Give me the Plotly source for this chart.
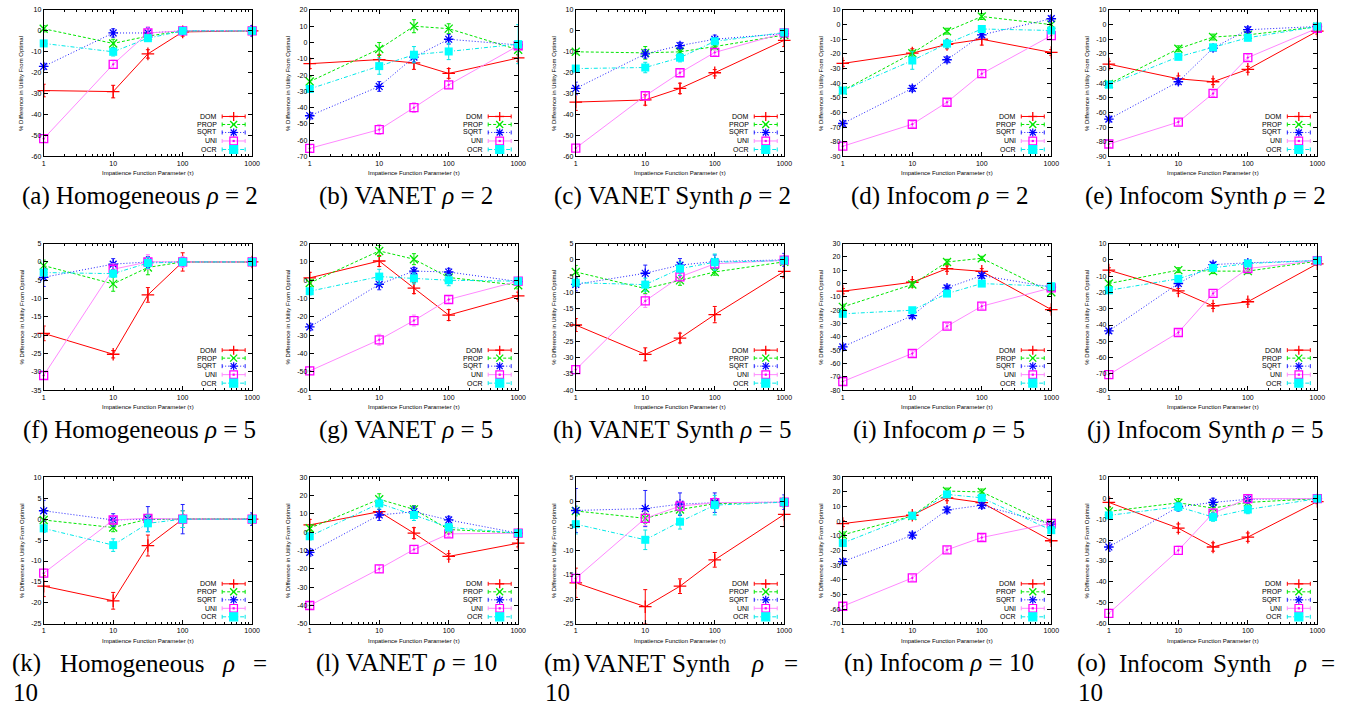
import plotly.graph_objects as go

W, H = 1368, 709

# ---------------- data ----------------
TAU = [1, 10, 31.6, 100, 1000]
SERIES = ["DOM", "PROP", "SQRT", "UNI", "OCR"]
X_TICK_VALS = [1, 10, 100, 1000]
X_TICK_TEXT = ["1", "10", "100", "1000"]
X_MINOR_VALS = [2, 3, 4, 5, 6, 7, 8, 9, 20, 30, 40, 50, 60, 70, 80, 90,
                200, 300, 400, 500, 600, 700, 800, 900]

PANELS = list("abcdefghijklmno")
DATASETS = ["Homogeneous", "VANET", "VANET Synth", "Infocom", "Infocom Synth"]
RHOS = [2, 5, 10]
Y_MIN = [-60, -70, -60, -90, -90, -35, -60, -40, -80, -80, -25, -50, -25, -70, -60]
Y_MAX = [10, 20, 10, 10, 10, 5, 20, 5, 30, 10, 10, 30, 5, 30, 10]
Y_STEP = [10, 10, 10, 10, 10, 5, 10, 5, 10, 10, 5, 10, 5, 10, 10]

# (a) Homogeneous rho=2
a_DOM = [-28.5, -29, -11, -0.5, 0];       a_DOM_err = [3, 3, 2, 2, 1]
a_PROP = [1, -6, -2.5, 0, 0];             a_PROP_err = [1.5, 2, 1, 1, 0.5]
a_SQRT = [-17, -1, -1, 0, 0];             a_SQRT_err = [1.5, 2, 2.5, 1.5, 2.5]
a_UNI = [-51.5, -16, -1, 0, 0];           a_UNI_err = [1.5, 2, 3, 1.5, 0.5]
a_OCR = [-6, -10, -3.5, 0, 0];            a_OCR_err = [1, 2, 1.5, 1, 0.5]
# (b) VANET rho=2
b_DOM = [-13, -10.5, -12.5, -19, -9.5];   b_DOM_err = [3, 3, 4, 3, 2]
b_PROP = [-24, -4, 10, 8.5, -4.5];        b_PROP_err = [3, 4, 4, 3, 3]
b_SQRT = [-45, -27, -9, 2, -1.5];         b_SQRT_err = [2, 3, 3, 3, 2]
b_UNI = [-65, -53.5, -40, -26, -2];       b_UNI_err = [2, 3, 3, 2, 2]
b_OCR = [-28.5, -14.5, -7.5, -5.5, -1];   b_OCR_err = [2, 5, 5, 5, 12]
# (c) VANET Synth rho=2
c_DOM = [-34, -33, -27.5, -20, -4.5];     c_DOM_err = [4, 2.5, 2.5, 1.5, 3]
c_PROP = [-10, -10.5, -10, -7.5, -2];     c_PROP_err = [1, 3, 1.5, 1.5, 1]
c_SQRT = [-27.5, -11, -7, -4, -1.3];      c_SQRT_err = [3, 2, 1.5, 2, 1]
c_UNI = [-56, -31, -20, -10.3, -1];       c_UNI_err = [1, 2, 2, 1.5, 1]
c_OCR = [-18, -17.5, -12.8, -5, -0.8];    c_OCR_err = [1, 2.5, 2, 1.5, 1]
# (d) Infocom rho=2
d_DOM = [-26.5, -19.5, -13.5, -10, -19];  d_DOM_err = [2, 3, 3, 4, 2]
d_PROP = [-45, -19.5, -4.5, 5.5, 0];      d_PROP_err = [2, 2, 2, 2, 2]
d_SQRT = [-67.5, -43.5, -24, -7, 4];      d_SQRT_err = [2, 2, 2, 2, 2]
d_UNI = [-83, -68, -53, -33.5, -7.5];     d_UNI_err = [2, 2, 2, 2, 2]
d_OCR = [-45, -24.5, -13, -3, -4];        d_OCR_err = [2, 6, 3, 2, 2]
# (e) Infocom Synth rho=2
e_DOM = [-27, -37, -39, -30.5, -4.5];     e_DOM_err = [2, 2, 2, 2, 2]
e_PROP = [-40.5, -16.5, -8.5, -7, -1.5];  e_PROP_err = [2, 2, 2, 2, 1]
e_SQRT = [-64.5, -39, -16, -3.5, -1.3];   e_SQRT_err = [2, 2, 2, 2, 1]
e_UNI = [-81.5, -66.5, -47, -22.5, -2.5]; e_UNI_err = [2, 2, 2, 2, 1]
e_OCR = [-41, -22, -15.5, -9, -1.3];      e_OCR_err = [2, 2, 2, 2, 1]
# (f) Homogeneous rho=5
f_DOM = [-19.5, -25.2, -9, 0, 0];         f_DOM_err = [2, 1, 2, 2.5, 1]
f_PROP = [-1, -6, -1.5, 0, 0];            f_PROP_err = [1.5, 2, 2, 1, 1]
f_SQRT = [-4.2, -0.6, 0, 0, 0];           f_SQRT_err = [2.5, 1.5, 1.5, 1, 1]
f_UNI = [-31, -2, 0, 0, 0];               f_UNI_err = [1, 1.5, 2, 1.5, 1]
f_OCR = [-2.9, -3.2, -0.3, 0, 0];         f_OCR_err = [1, 1, 1.5, 1, 1]
# (g) VANET rho=5
g_DOM = [1.3, 10.5, -4.3, -19, -8.5];     g_DOM_err = [3, 3, 3, 3, 2]
g_PROP = [-1.5, 16, 11.5, 1.5, -2.7];     g_PROP_err = [2, 3, 3, 2, 2]
g_SQRT = [-25.5, -2.2, 5, 4.5, -0.7];     g_SQRT_err = [2, 3, 2, 2, 1]
g_UNI = [-49.5, -32.5, -22, -10.5, -0.5]; g_UNI_err = [2, 3, 3, 2, 1]
g_OCR = [-6, 2, 1, 0, -0.5];              g_OCR_err = [2, 4, 3, 3, 1]
# (h) VANET Synth rho=5
h_DOM = [-20, -29, -24, -16.8, -3.5];     h_DOM_err = [2, 2, 1.5, 2.5, 2]
h_PROP = [-3.7, -8.8, -6.3, -3.7, -0.6];  h_PROP_err = [2, 1.5, 1.5, 1, 0.5]
h_SQRT = [-7.5, -4.1, -1.6, -0.5, 0];     h_SQRT_err = [2, 2.5, 2, 2, 2]
h_UNI = [-33.7, -12.6, -5.2, -1.2, -0.1]; h_UNI_err = [1, 2, 1, 1, 0.5]
h_OCR = [-7, -7.6, -2.7, -0.7, -0.2];     h_OCR_err = [1, 2, 2, 2.5, 1]
# (i) Infocom rho=5
i_DOM = [-5.7, 1, 11.2, 9.2, -19.5];      i_DOM_err = [2, 2, 2, 2, 1.5]
i_PROP = [-17.5, -0.7, 16.2, 19, -6.5];   i_PROP_err = [2, 2, 2, 1.5, 1.5]
i_SQRT = [-47.5, -24, -3.2, 6, -2.7];     i_SQRT_err = [2, 2, 2, 2, 1]
i_UNI = [-73.5, -52.5, -32, -17, -3.2];   i_UNI_err = [2, 2, 2, 2, 1]
i_OCR = [-22.7, -20, -7.5, 0, -2];        i_OCR_err = [2, 2, 2, 2, 1]
# (j) Infocom Synth rho=5
j_DOM = [-6.3, -19, -28.3, -25.7, -2.4];  j_DOM_err = [1.5, 1.5, 1.5, 1.5, 1]
j_PROP = [-14.5, -6.3, -6.9, -6.9, -0.8]; j_PROP_err = [1.5, 1.5, 1.5, 1.5, 1]
j_SQRT = [-43.6, -14.5, -2.9, -1.8, -0.4]; j_SQRT_err = [1.5, 1.5, 1.5, 1.5, 1]
j_UNI = [-70.5, -44.6, -20.6, -5.3, -0.4]; j_UNI_err = [1.5, 1.5, 1.5, 1.5, 1]
j_OCR = [-18.7, -11.6, -4.9, -2.2, -0.4]; j_OCR_err = [1.5, 1.5, 1.5, 1.5, 1]
# (k) Homogeneous rho=10
k_DOM = [-16, -19.5, -6.3, 0, 0];         k_DOM_err = [2.5, 2, 2.5, 2, 1]
k_PROP = [-0.2, -2, 0, 0, 0];             k_PROP_err = [1, 1, 1, 1, 1]
k_SQRT = [2, -0.2, 0, 0, 0];              k_SQRT_err = [2.5, 1.5, 3, 3.5, 1.5]
k_UNI = [-12.9, -0.2, 0.2, 0, 0];         k_UNI_err = [1, 1, 1, 1, 1]
k_OCR = [-2.2, -6.2, -1, 0, 0];           k_OCR_err = [1, 1.5, 2, 2, 1]
# (l) VANET rho=10
l_DOM = [4, 11.2, -0.5, -13.2, -6];       l_DOM_err = [3, 3, 3, 1.5, 2]
l_PROP = [2.2, 18, 12.5, 1.5, -0.5];      l_PROP_err = [2, 3, 2, 2, 1]
l_SQRT = [-11, 9.4, 11.2, 6.7, -0.5];     l_SQRT_err = [2, 3, 3, 2, 1]
l_UNI = [-40, -20, -9.4, -0.9, -0.5];     l_UNI_err = [1.5, 2, 2, 1.5, 1]
l_OCR = [-2.2, 15.7, 9.4, 2.7, -0.5];     l_OCR_err = [2, 3, 3, 2, 1]
# (m) VANET Synth rho=10
m_DOM = [-16.6, -21.5, -17.3, -11.9, -2.6]; m_DOM_err = [3, 3.5, 1.5, 1.5, 2.5]
m_PROP = [-1.9, -3.4, -1.6, -0.4, -0.1];  m_PROP_err = [1, 1, 1, 1, 0.5]
m_SQRT = [-1.8, -1.4, -0.5, -0.2, -0.1];  m_SQRT_err = [4.5, 3.7, 2.3, 2, 1.5]
m_UNI = [-15.7, -3.4, -0.9, -0.2, -0.1];  m_UNI_err = [1, 1.5, 1, 1, 0.5]
m_OCR = [-4.6, -7.8, -4.1, -0.7, -0.1];   m_OCR_err = [2, 2, 1.5, 2, 1]
# (n) Infocom rho=10
n_DOM = [-1.6, 4.1, 16, 12.7, -13.3];     n_DOM_err = [2, 2, 2, 2, 1]
n_PROP = [-9.3, 3.6, 20.6, 20, -2.5];     n_PROP_err = [2, 2, 2, 2, 1]
n_SQRT = [-27.6, -9.5, 7.7, 10.9, -2];    n_SQRT_err = [2, 2, 2, 2, 1]
n_UNI = [-58, -38.7, -19.5, -11.1, -1.4]; n_UNI_err = [2, 2, 2, 2, 1]
n_OCR = [-14.9, 3.8, 18.3, 16, -6.1];     n_OCR_err = [2, 2, 2, 2, 1]
# (o) Infocom Synth rho=10
o_DOM = [-2, -14.3, -23.3, -18.6, -1.6];  o_DOM_err = [2, 2, 2, 2, 1]
o_PROP = [-6.3, -2.2, -4.7, -2, -0.2];    o_PROP_err = [2, 2, 2, 2, 1]
o_SQRT = [-23.3, -4.1, -2, -0.5, -0.2];   o_SQRT_err = [2, 2, 2, 2, 1]
o_UNI = [-55, -24.9, -7.1, -0.2, -0.2];   o_UNI_err = [2, 2, 2, 2, 1]
o_OCR = [-8.2, -4.1, -9, -5.4, -0.2];     o_OCR_err = [2, 2, 2, 2, 1]

# ---------------- styles / layout geometry ----------------
STYLE = {
    "DOM":  dict(line="#ff0000", mark="#ff0000", dash="solid", symbol="cross-thin", size=9),
    "PROP": dict(line="#00e600", mark="#00e600", dash="3px,2px", symbol="x-thin", size=8),
    "SQRT": dict(line="#2020ff", mark="#0000ff", dash="1px,2px", symbol="asterisk", size=8),
    "UNI":  dict(line="#ff88ff", mark="#ff00ff", dash="solid", symbol="square-open-dot", size=8),
    "OCR":  dict(line="#00e8e8", mark="#00ffff", dash="4px,2px,1px,2px", symbol="square", size=8),
}
COL_LEFT = [42, 310, 578, 847, 1115]
ROW_TOP = [6, 242, 478]
PLOT_W, PLOT_H = 210, 148
LEG_OFFSETS = [40, 32, 24, 15.5, 7]

SANS = "Liberation Sans Narrow, Liberation Sans, Arial, sans-serif"
TICK_FONT = dict(family=SANS, size=7, color="black")
TITLE_FONT = dict(family=SANS, size=6, color="black")
LEG_FONT = dict(family=SANS, size=7, color="black")
CAP_FONT = dict(family="Liberation Serif, Times New Roman, serif", size=25, color="black")
NB = "&nbsp;"

fig = go.Figure()
layout = dict(width=W, height=H, margin=dict(l=0, r=0, t=0, b=0),
              paper_bgcolor="white", plot_bgcolor="white", showlegend=False)
shapes, annotations = [], []


def seg(xr, yr, xa, xb, ya, yb, color, width=1.0, dash="solid"):
    return dict(type="line", xref=xr, yref=yr, xsizemode="pixel", xanchor=1,
                ysizemode="pixel", yanchor=0, x0=xa, x1=xb, y0=ya, y1=yb,
                line=dict(color=color, width=width, dash=dash), layer="above")


def box(xr, yr, cx, cy, h, color, fill):
    return dict(type="rect", xref=xr, yref=yr, xsizemode="pixel", xanchor=1,
                ysizemode="pixel", yanchor=0, x0=cx - h, x1=cx + h, y0=cy - h, y1=cy + h,
                line=dict(color=color, width=1.2), fillcolor=fill, layer="above")


def legend_marker(xr, yr, s, cx, cy):
    c = STYLE[s]["mark"]
    if s == "DOM":
        return [seg(xr, yr, cx - 4.5, cx + 4.5, cy, cy, c, 1.3),
                seg(xr, yr, cx, cx, cy - 4.5, cy + 4.5, c, 1.3)]
    if s == "PROP":
        return [seg(xr, yr, cx - 3.5, cx + 3.5, cy - 3.5, cy + 3.5, c, 1.3),
                seg(xr, yr, cx - 3.5, cx + 3.5, cy + 3.5, cy - 3.5, c, 1.3)]
    if s == "SQRT":
        return [seg(xr, yr, cx - 4, cx + 4, cy, cy, c, 1.2),
                seg(xr, yr, cx, cx, cy - 4, cy + 4, c, 1.2),
                seg(xr, yr, cx - 3, cx + 3, cy - 3, cy + 3, c, 1.2),
                seg(xr, yr, cx - 3, cx + 3, cy + 3, cy - 3, c, 1.2)]
    if s == "UNI":
        return [box(xr, yr, cx, cy, 3.8, c, "rgba(0,0,0,0)"),
                box(xr, yr, cx, cy, 0.5, c, c)]
    return [box(xr, yr, cx, cy, 4, c, c)]


ROW3_TOKENS = {
    "k": [("(k)", 0), ("Homogeneous", 48), ("<i>ρ</i>", 212), ("=", 243)],
    "m": [("(m)", 0), ("VANET", 40), ("Synth", 129), ("<i>ρ</i>", 208), ("=", 242)],
    "o": [("(o)", 0), ("Infocom", 42), ("Synth", 137), ("<i>ρ</i>", 219), ("=", 246)],
}

for idx, pid in enumerate(PANELS):
    r, c = divmod(idx, 5)
    n = idx + 1
    suf = "" if n == 1 else str(n)
    xa, ya = "x" + suf, "y" + suf
    px0, py0 = COL_LEFT[c], ROW_TOP[r]
    xdom = [px0 / W, (px0 + PLOT_W) / W]
    ydom = [1 - (py0 + PLOT_H) / H, 1 - py0 / H]
    yticks = list(range(Y_MIN[idx], Y_MAX[idx] + 1, Y_STEP[idx]))

    layout["xaxis" + suf] = dict(
        type="log", range=[0, 3], domain=xdom, anchor=ya,
        showline=True, linecolor="black", linewidth=1, mirror="ticks",
        ticks="inside", ticklen=4, tickcolor="black", tickwidth=1,
        tickmode="array", tickvals=X_TICK_VALS, ticktext=X_TICK_TEXT,
        tickfont=TICK_FONT, showgrid=False, zeroline=False,
        minor=dict(tickmode="array", tickvals=X_MINOR_VALS, ticks="inside",
                   ticklen=2, tickcolor="black", showgrid=False))
    layout["yaxis" + suf] = dict(
        range=[Y_MIN[idx], Y_MAX[idx]], domain=ydom, anchor=xa,
        showline=True, linecolor="black", linewidth=1, mirror="ticks",
        ticks="inside", ticklen=4, tickcolor="black", tickwidth=1,
        tickmode="array", tickvals=yticks, ticktext=[str(v) for v in yticks],
        tickfont=TICK_FONT, showgrid=False, zeroline=False)

    for s in SERIES:
        st = STYLE[s]
        vals = globals()[f"{pid}_{s}"]
        errs = globals()[f"{pid}_{s}_err"]
        fig.add_trace(go.Scatter(
            x=TAU, y=vals, xaxis=xa, yaxis=ya, mode="lines+markers", name=s,
            cliponaxis=False,
            line=dict(color=st["line"], width=1, dash=st["dash"]),
            marker=dict(symbol=st["symbol"], size=st["size"], color=st["mark"],
                        line=dict(color=st["mark"], width=1.3 if s != "OCR" else 0)),
            error_y=dict(type="data", array=errs, visible=True, color=st["line"],
                         thickness=1, width=2)))

    xr, yr = xa + " domain", ya + " domain"
    annotations.append(dict(text="% Difference in Utility From Optimal", xref=xr, yref=yr,
                            x=0, y=0.5, xshift=-22, textangle=-90, showarrow=False,
                            font=TITLE_FONT, xanchor="center", yanchor="middle"))
    annotations.append(dict(text="Impatience Function Parameter (τ)", xref=xr, yref=yr,
                            x=0.5, y=0, yshift=-17, showarrow=False, font=TITLE_FONT,
                            xanchor="center", yanchor="middle"))
    for s, oy in zip(SERIES, LEG_OFFSETS):
        st = STYLE[s]
        annotations.append(dict(text=s, xref=xr, yref=yr, x=1, y=0, xshift=-33, yshift=oy,
                                showarrow=False, font=LEG_FONT, xanchor="right",
                                yanchor="middle"))
        shapes.append(seg(xr, yr, -30, -7, oy, oy, st["line"], 1, st["dash"]))
        shapes.append(seg(xr, yr, -30, -30, oy - 2, oy + 2, st["line"], 1))
        shapes.append(seg(xr, yr, -7, -7, oy - 2, oy + 2, st["line"], 1))
        shapes.extend(legend_marker(xr, yr, s, -18.5, oy))

    name, rho = DATASETS[c], RHOS[r]
    sub_left = px0 - 34
    cap_y = 1 - (py0 + PLOT_H + 40) / H
    if pid in ROW3_TOKENS:
        for txt, off in ROW3_TOKENS[pid]:
            annotations.append(dict(text=txt, xref="paper", yref="paper",
                                    x=(sub_left + off) / W, y=cap_y, showarrow=False,
                                    font=CAP_FONT, xanchor="left", yanchor="middle"))
        annotations.append(dict(text=str(rho), xref="paper", yref="paper",
                                x=(sub_left + 1) / W, y=1 - (py0 + PLOT_H + 69) / H,
                                showarrow=False, font=CAP_FONT, xanchor="left",
                                yanchor="middle"))
    else:
        text = f"({pid}){NB}{name}{NB}<i>ρ</i>{NB}={NB}{rho}"
        annotations.append(dict(
            text=text, xref="paper", yref="paper",
            x=(sub_left + 131) / W, y=cap_y, showarrow=False, font=CAP_FONT,
            xanchor="center", yanchor="middle"))

layout["shapes"] = shapes
layout["annotations"] = annotations
fig.update_layout(**layout)
fig.write_html("out.html")
